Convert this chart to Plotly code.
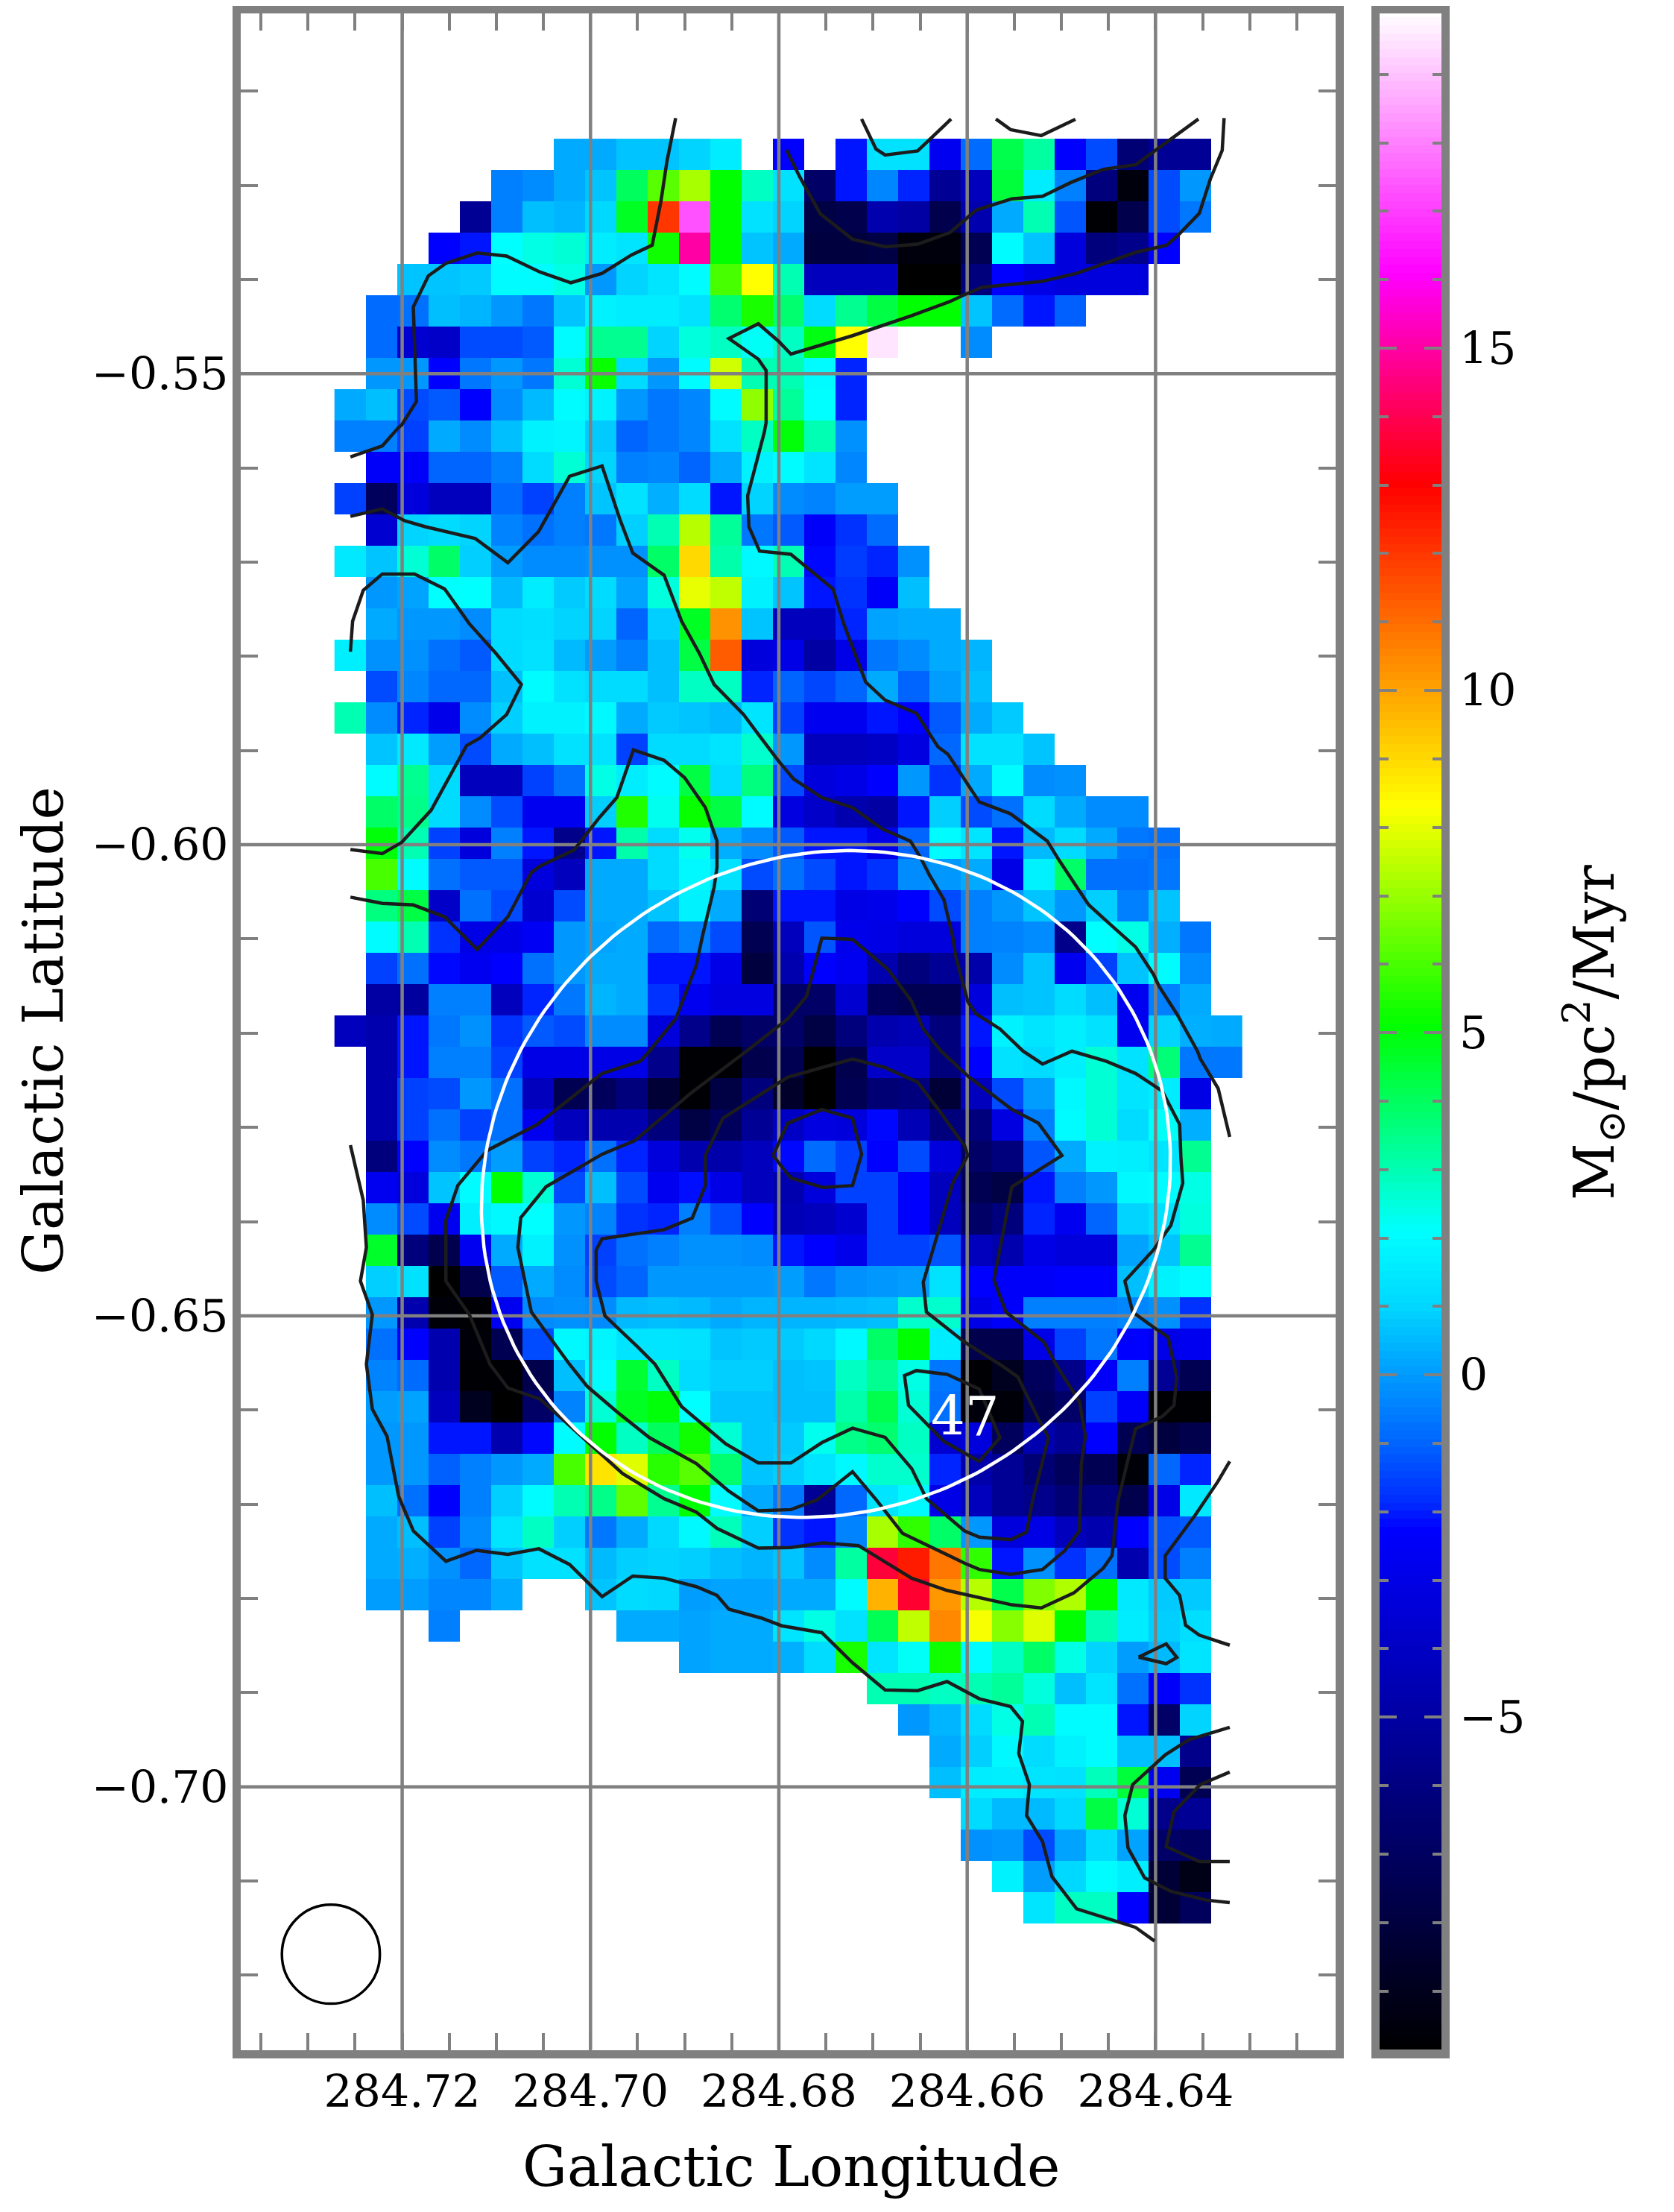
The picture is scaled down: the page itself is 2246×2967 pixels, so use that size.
#!/usr/bin/env python3
"""Outflow mass-loss map with contours, galactic coordinates, rainbow scale."""

import numpy as np
import plotly.graph_objects as go

_ = None

# -- Map readings, one row per 12" pixel, top to bottom, left to right -------
map_rows = [
    [_,_,_,_,_,_,_,0,0,.5,.5,.8,1.5,_,-3.3,_,-3,1.2,1.2,-3.6,-1.3,4.2,3.2,-3.3,-2,-6.5,-5.8,-5.8],
    [_,_,_,_,_,-.8,-.5,0,.5,4,6.2,7.2,5.1,2.8,1.2,-6.8,-3,-.6,-2.8,-5.8,-4.8,4.4,1.5,-.8,-6.3,-9.3,-2,-.3],
    [_,_,_,_,-5.8,-.8,.4,.2,.9,4.7,12,17.3,5.1,1.2,.8,-7.8,-7.5,-5.2,-5.5,-7.5,-5.2,0,3,-1.8,-9.5,-7.5,-2,-1],
    [_,_,_,-3.3,-3,2.1,2.4,2.6,1.5,1.3,5.3,15,5.1,.5,0,-8,-8,-7.8,-9.3,-9.3,-7.3,2,.5,-4,-6.3,-6,-3.3],
    [_,_,.5,.5,.6,2,2,2.4,-.3,.8,1.3,2,6,8.3,3,-4.8,-4.8,-4.8,-9.6,-9.6,-6.3,-3.3,-3.8,-4,-4,-4],
    [_,-1.3,-1.2,.4,.2,-.3,-1,.5,1.7,1.5,1.5,1.2,3.8,5.4,3.8,1,3.4,4.3,5.1,5.1,.5,-1.3,-3,-1.6],
    [_,-1.3,-4.3,-4.5,-2,-2,-1.7,2,3.4,3.4,.8,2.5,2.8,2.2,2.8,4.9,8.3,19.5,_,_,-.5],
    [_,-.3,-.3,-3.3,-1,-.3,-1,2.6,5.2,1,-.3,2,7.7,3,3,2,-2.8],
    [0,.4,-2,-1.7,-3.3,-.5,.3,2,1.7,-.3,-1,-.6,2,6.9,3.3,2.1,-2.8],
    [-.8,-.8,-2.2,0,-.5,.4,1.7,1.8,.6,-1.5,-1,-.6,1.2,2.8,5,3,-.4],
    [_,-3.4,-3.4,-1.5,-1.5,-.8,1,2.6,.8,-.8,-.6,-1.5,0,1.7,2,1.3,-.6],
    [-2.2,-7,-4,-4.8,-4.8,-1.3,-2.2,-.8,.5,1.2,.1,1,-3,.8,-.5,-.7,-.2,-.2],
    [_,-4.3,.8,1,.8,-.7,-1.2,-.8,-1,.7,3,7.4,3.3,-1,-1.7,-3.4,-2.5,-1.3],
    [1.4,.5,2.6,3.9,.7,-.2,-.5,-.5,-.4,-.4,3.9,9,3.1,1.9,3,-3.2,-2.3,-2.8,-.4],
    [_,-.3,-.1,2.1,2.1,.3,1.5,.6,1,-.1,2.5,8,7.5,1.7,.5,-3,-2.5,-3.4,.4],
    [_,0,-.3,-.3,-.5,1,1.1,.8,.8,-1.5,.7,4.7,10.3,.5,-4.8,-4.8,-2.8,-.1,0,0],
    [1.6,-.4,-.4,-1.2,-1.7,1,1.2,.3,-.2,-.8,.4,4.3,11.3,-4,-3.8,-5.5,-3.8,-1,-.5,0,.2],
    [_,-2,-.6,-1.4,-1.4,.4,2,1.2,1,1,.4,2.8,2.8,-2.8,-1.5,-2.1,-1.5,0,-1.5,-.2,.4],
    [3,-.5,-2.8,-3.7,-.5,.7,1.7,1.7,1.9,0,.6,.5,.3,1.3,-2.2,-3.6,-3.6,-3,-3.3,-1.7,0,.6],
    [_,.5,1.4,-.2,-2,0,.4,1.2,1.2,-2.2,1,1,1.3,2.7,-.3,-4.8,-4.8,-4.6,-3.9,-1.4,1.2,1.2,.5],
    [_,2,3.4,1,-4.8,-4.8,-2.2,-1.2,2.4,1.5,2,4.3,1,3.6,-2,-4,-3.8,-3.3,-.3,-2.5,0,2,-.5,-.4],
    [_,3.9,3.5,1,-.5,-2,-3.6,-3.6,.7,5.5,2.3,5.2,4.3,2,-3.9,-4.5,-5.2,-5.5,-3,.7,-2,-1.2,1,0,-.5,-.5],
    [_,5,3,-2.2,-4,-.8,-3,-6,-3,3.1,1,2.3,.1,-.5,-1.7,-3,-3,-3.7,-1.5,2,1.3,-3,.3,1,0,-1,-1.2],
    [_,6,2,-1.2,-1.7,-1.7,-4,-4.8,0,0,1,1.9,1.2,-2,-1.2,-2,-3,-2.5,-.5,-.3,0,-3.8,1.7,3.9,-1.2,-1.2,-1],
    [_,3.6,4.3,-4.5,-1.2,-2,-4.3,-2,0,0,.5,1.7,0,-6.5,-3,-3,-3.8,-3.7,-3.3,-2,-.8,-.3,.5,-.3,.7,-.8,.5],
    [_,2,3,-2.5,-3.8,-3.8,-3.5,-.3,-.1,0,-1.4,-.8,-2,-7.3,-4.8,-1.8,-3.7,-3.8,-4,-4,-.8,-.7,-.5,-6,2.1,2.4,.1,-1],
    [_,-2.2,-1.2,-3.2,-3.6,-3.3,-1.2,-.3,0,0,-3,-3,-3.8,-8,-5.2,-3.3,-3.6,-5.2,-6.3,-5.8,-5.3,-.5,.5,-3.6,-2.2,.5,2,-.5],
    [_,-5.5,-5.6,-.8,-.8,-4.8,-2.8,-1,.2,0,-2.5,-3.6,-3.9,-3.9,-6.8,-6.8,-4.3,-7,-7.3,-7.3,-4,.4,.5,1,.4,-3.6,-.8,0],
    [-4.8,-5.2,-3,-1,-.4,-2.5,-1.7,-2,-.5,-.5,-4,-6,-7.3,-6.8,-6.8,-7.8,-6.3,-5.2,-5,-6.3,-3,1.7,1.3,1.6,1.2,-3.6,.8,.1,0],
    [_,-5.2,-3,-.8,-.8,-2.2,-3.8,-3.8,-3.8,-3.8,-6,-9.5,-9.5,-7.5,-7.3,-9.6,-7.5,-4.5,-4.5,-6.3,-3.3,1.2,1,1.6,2.6,1.2,3.7,-1,-1],
    [_,-5.2,-2.2,-2,-.3,-1.2,-4.8,-7.3,-7,-6.3,-8.2,-9.5,-7.8,-6.3,-8.5,-9.6,-7.3,-6.5,-6.3,-8.2,-4.8,-2,-.2,1.9,2.6,1.3,1.5,-3.8],
    [_,-5.2,-2.2,-1.2,-2.2,-1.2,-3.6,-4.8,-5.2,-5.2,-6.3,-7.8,-7,-5.8,-4.6,-3.9,-4,-3.2,-5,-6.3,-6.3,-3.9,-.8,2,2.6,1,2.2,.1],
    [_,-6.3,-3.3,-.5,-1,-.2,-2.2,-2.8,-1.2,-2.8,-4,-5.2,-5.3,-4.8,-3.2,-1.3,-2.2,-3.3,-2,-4,-6.8,-6.3,-1.8,0,1.7,1.6,1.3,3.4],
    [_,-3.6,-4,.5,2,5.1,2.6,-2,.4,-2,-3.6,-3.1,-3.8,-4.8,-5.2,-4,-2.2,-2.2,-3.3,-4.8,-7.3,-7.8,-3,-.8,-.3,1.9,2,2.4],
    [_,-.5,-2,-3.6,1.6,1.9,2.1,-.3,-.7,-2.5,-2.8,-.8,-2,-3.3,-5,-4.8,-4.3,-2.2,-3.3,-4.8,-6.8,-6.3,-2.8,-3.6,-1.5,.8,1.2,2.5],
    [_,4.6,-6.3,-7.5,-3.6,0,1.7,-.4,-2.2,-1.2,-.8,-.4,-.4,-.5,-3,-3.3,-3.7,-2.2,-2.2,-1.8,-4.8,-5.2,-3.8,-4,-4,-.1,.5,3.4],
    [_,.7,1.2,-9.6,-7.5,-1.7,0,-.5,-2,-1.5,-.3,-.3,-.3,-.3,-.2,-1,-.4,-.3,-.2,1.2,-3.3,-3.4,-3.4,-3.3,-3.3,.4,1.7,2],
    [_,-.3,-5.2,-9.4,-9.5,-3.6,-.5,-.4,-.5,.3,.4,.3,0,.2,.2,.2,.3,.4,2.7,2.7,-3.8,-3.4,-.8,-.8,-.8,-.6,-.4,-2.5],
    [_,-1.2,-3.3,-5.2,-9.4,-7.3,-2,1.9,1.8,1.3,1.3,1.2,.5,.6,.6,.9,1.9,3.9,5.1,1.5,-7.5,-7.5,-3.8,-2.2,-1,-3.3,-3.8,-3.6],
    [_,-.7,-1.3,-5.2,-9.5,-9.5,-7.5,.4,2,4.5,2.8,1,.7,.7,.4,.5,2.8,3.4,2.4,-1,-9.5,-8.8,-7,-6,-3.4,-.8,-5.8,-7.3],
    [_,-.2,-.1,-4.8,-8.8,-9.6,-6.8,-.7,2.6,4.7,5,2.1,.5,.5,.4,.4,3.1,4.2,2.6,-1.2,-9.3,-9.4,-7.3,-6.8,-2.2,-3.4,-9.5,-9.5],
    [_,-.3,-.3,-3,-3,-5.2,-3.2,2,5.1,2.8,4,5.3,2.6,.5,.6,2.3,3.5,3.8,2.8,-4.3,-4,-7,-5.2,-5.8,-3.3,-7.3,-8,-7.5],
    [_,-.3,-.3,-1.6,-.8,-.3,0,6,8.8,7.9,5.6,6.2,3.8,.5,.7,1.3,1.9,2.7,2.7,-2.8,-5.3,-5.8,-6.5,-7,-7.3,-9.4,-1.4,-2.8],
    [_,.4,-1.2,-3.3,-.8,.7,2,3,3.5,6.3,3.4,5.1,2,0,-1,-5.8,-1.4,1.3,1.9,-3.8,-4.8,-5.8,-6,-6.5,-6.3,-7.5,-3.8,1.4],
    [_,0,.4,-2.2,-.5,1.3,2.8,.7,-1,0,.9,1.9,2.9,.7,-2.5,-3,-.7,7.2,5.7,3.9,-.3,-4,-3.8,-4.8,-5.2,-3.3,-1.9,-1.7],
    [_,0,.1,-.4,-1.4,.5,1.2,1.2,.3,.7,.8,.7,.4,.2,.5,-.5,3.2,13.7,12.5,10.8,5.7,-3,-.4,-2.5,-1.2,-5.2,-2,-.8],
    [_,-.2,-.2,-.6,-.6,0,_,_,.5,1,.9,-.2,-.1,-.1,0,0,2,9.7,13.6,10.2,7.4,4.2,6.7,7.3,5.1,1.4,.6,.6],
    [_,_,_,-.8,_,_,_,_,_,0,0,-.1,0,0,1.3,2.4,1.2,4.1,7.5,10.5,8.2,6.8,7.9,5.1,3,1.5,.7,1.1],
    [_,_,_,_,_,_,_,_,_,_,_,-.1,0,0,.1,1,5.4,1.3,2.2,5.3,2,2.8,3.9,2.4,.8,-.2,.3,1.3],
    [_,_,_,_,_,_,_,_,_,_,_,_,_,_,_,_,_,3,3,2.8,3,3.3,2.5,.4,1.3,-1.2,-3.4,-2.5],
    [_,_,_,_,_,_,_,_,_,_,_,_,_,_,_,_,_,_,-.3,.2,1,2.4,3,2,2,-3,-6.8,.8],
    [_,_,_,_,_,_,_,_,_,_,_,_,_,_,_,_,_,_,_,0,.7,1.9,1,1.7,2,.4,.4,-6],
    [_,_,_,_,_,_,_,_,_,_,_,_,_,_,_,_,_,_,_,.4,1.5,1.6,1.3,1.2,2.9,4.4,-3.6,-7.3],
    [_,_,_,_,_,_,_,_,_,_,_,_,_,_,_,_,_,_,_,_,1,.3,.3,.9,4.3,2.6,-6,-5.8],
    [_,_,_,_,_,_,_,_,_,_,_,_,_,_,_,_,_,_,_,_,-.4,-.3,-2,-.1,1,-.1,-6.8,-6.9],
    [_,_,_,_,_,_,_,_,_,_,_,_,_,_,_,_,_,_,_,_,_,1.7,-.2,.9,2,1.6,-8.2,-9],
    [_,_,_,_,_,_,_,_,_,_,_,_,_,_,_,_,_,_,_,_,_,_,1.3,2.8,2.8,-3.3,-8.2,-7],
]

# first-pass colour readings against the bar's printed ticks
reading_pts = [-9.6, -8.0, -7.0, -5.5, -4.0, -3.3, -2.5, -1.5, -0.5, 0.0, 2.1, 20.0]
value_pts = [-9.86, -8.0, -7.1, -5.0, -3.3, -2.25, -1.75, -1.0, -0.3, 0.25, 2.1, 20.0]

# -- Contours, in map pixels (column, row) from the map's upper left corner --
contour_a = [(10.9,-.66),(10.62,.73),(10.43,2),(10.15,3.4),(9.49,3.71),(8.55,4.3),(7.55,4.6),(6.57,4.26),
             (5.5,3.75),(4.56,3.65),(3.56,3.98),(3,4.38),(2.52,5.37),(2.58,7.4),(2.62,8.39),(2.15,9.14),
             (2.05,9.22),(1.53,9.81),(.51,10.16)]
contour_b = [(14.44,.35),(14.86,1.21),(15.52,2.4),(16.55,3.21),(17.59,3.45),(18.63,3.37),(19.66,3),(20.5,2.28),
             (21.64,1.92),(22.62,1.84),(23.52,1.4),(24.56,.98),(25.6,.83),(26.5,.17),(27.6,-.63)]
contour_c = [(16.84,-.63),(17.3,.33),(17.59,.52),(18.63,.39),(19.7,-.63)]
contour_d = [(21.13,-.63),(21.6,-.29),(22.58,-.1),(23.67,-.62)]
contour_e = [(28.42,-.66),(28.36,.37),(27.98,1.29),(27.63,2.38),(27,3.03),(26.59,3.4),(25.59,3.63),(23.71,4.3),
             (22.58,4.56),(20.7,4.74),(20.13,4.98),(19.66,5.2),(18.44,5.65),(16.55,6.29),(14.58,6.88),(14.2,6.48),
             (13.54,5.91),(12.6,6.38),(13.54,7.04),(13.79,7.4),(13.79,9.06),(13.73,9.38),(13.2,11.4),(13.24,12.39),
             (13.58,13.17),(14.58,13.27),(15.93,14.38),(16.27,15.49),(16.97,17.35),(17.59,17.93),(18.59,18.35),
             (19.1,19.14),(19.28,19.42),(19.6,19.66),(20.13,20.49),(20.6,21.18),(21.6,21.56),(22.77,22.43),
             (23.14,23.03),(24.09,24.46),(24.65,24.97),(25.59,25.81),(26.16,26.68),(26.35,27.08),(26.91,27.95),
             (27.57,29.14),(27.66,29.38),(28.23,30.33),(28.6,31.88)]
contour_f = [(.51,16.38),(.58,15.41),(.92,14.42),(1.53,13.9),(2.56,13.9),(3.52,14.38),(4.31,15.49),(5.16,16.44),
             (5.97,17.43),(5.5,18.39),(4.65,19.14),(4.22,19.38),(3.09,21.44),(2.15,22.47),(1.53,22.83),(.51,22.7)]
contour_g = [(.51,12.06),(1.53,11.82),(2.24,12.2),(2.9,12.39),(4.5,12.77),(5.54,13.54),(6.52,12.55),(7.51,10.78),
             (8.55,10.45),(9.12,12.16),(9.53,13.23),(10.53,13.94),(11.09,15.41),(11.66,16.44),(12.13,17.43),
             (13.07,18.39),(13.63,19.14),(14.2,19.89),(14.67,20.45),(15.57,21.04),(16.55,21.36),(17.5,22.04),
             (18.4,22.43),(18.72,22.95),(19,23.5),(19.47,24.3),(19.75,25.49),(19.85,26.12),(20.23,27.55),(20.5,27.95),
             (21.26,28.43),(22,29.14),(22.62,29.55),(23.56,29.14),(24.65,29.46),(25.59,29.85),(26.44,30.41),(27,31.48),
             (27.04,32.55),(27.1,33.35),(26.72,34.7),(26.16,35.49),(25.25,36.48),(25.5,37.47),(26.16,37.95),
             (26.63,38.27),(26.82,39.14),(26.91,39.54),(26.82,40.45),(26.44,40.81),(25.59,41.2),(25.03,43.5),
             (24.84,45.25),(24.56,45.65),(23.62,46.44),(22.58,46.92),(21.64,46.82),(19.57,46.36),(18.44,45.97),
             (16.74,44.93),(15.61,44.84),(14.58,44.99),(13.54,45.01),(12.22,44.38),(11.56,43.86),(10.53,43.43),
             (9.21,42.63),(8.17,41.68),(6.57,40.25),(5.54,39.89),(4.97,39.14),(4.31,37.55),(3.56,36.48),(3.56,34.54),
             (3.94,33.43),(4.88,32.31),(6.48,31.48),(8.55,29.85),(9.77,29.46),(10.06,29.14),(10.9,28.11),(11.56,26.4),
             (11.75,25.49),(12.13,23.9),(12.22,23.27),(12.22,22.43),(11.85,21.36),(11.19,20.41),(10.53,19.85),
             (9.55,19.52),(9.02,21.04),(8.46,21.68),(7.66,22.71),(6.57,23.23),(6.29,23.43),(5.54,24.85),(4.56,25.89),
             (3.52,24.85),(2.52,24.47),(1.53,24.42),(.51,24.22)]
contour_h = [(13.16,29.14),(11.37,30.49),(9.59,32),(8.55,32.43),(6.76,33.47),(5.95,34.46),(5.86,35.41),(6.29,37.47),
             (7.51,39.14),(8.08,39.85),(9.02,40.65),(10.06,41.48),(11.56,42.31),(12.6,43.19),(13.54,43.82),(14.58,43.78),
             (15.42,43.47),(16.55,42.57),(17.31,43.47),(18.15,44.54),(20.13,45.49),(20.6,45.69),(21.6,45.85),(22.62,45.69),
             (23.33,45.09),(23.8,44.46),(23.86,42.31),(23.99,41.44),(23.8,40.33),(23.05,39.14),(22.67,38.43),(21.45,37.47),
             (21.07,36.44),(21.64,33.47),(23.24,32.47),(22.49,31.44),(21.64,31),(20.23,29.93),(19.38,29.14),(18.81,28.43),
             (18.44,27.55),(17.68,26.52),(16.55,25.57),(15.57,25.53),(15.08,27.39),(14.48,28.11),(13.16,29.14)]
contour_i = [(16.55,29.39),(17.59,29.66),(18.63,30.13),(19.38,31.12),(20.13,32.16),(20.23,32.47),(19.75,33.35),
             (18.81,36.52),(18.91,37.47),(20.13,38.43),(21.26,39.14),(21.83,39.54),(22.49,40.89),(22.81,41.48),(22.3,43.5),
             (22.11,44.5),(21.6,44.74),(20.6,44.66),(20.13,44.46),(18.91,43.43),(18.44,42.47),(17.59,41.47),(16.55,41.18),
             (15.57,41.64),(14.58,42.29),(13.54,42.29),(12.5,41.68),(11.09,40.49),(10.24,39.14),(9.68,38.58),(8.64,37.59),
             (8.36,36.48),(8.36,35.49),(8.55,35.13),(10.53,34.84),(11.43,34.47),(11.85,33.43),(11.85,32.47),(12.41,31.28),
             (14.48,29.97),(16.55,29.39)]
contour_j = [(14.01,32.47),(14.48,31.44),(15.57,31),(16.55,31.28),(16.84,32.43),(16.55,33.43),(15.61,33.49),(14.58,33.19),(14.01,32.47)]
contour_k = [(20.6,42.24),(21.26,41.48),(20.6,39.93),(19.57,39.46),(18.59,39.34),(18.21,39.5),(18.34,40.45),(19.47,41.6),(20.6,42.24)]
contour_l = [(.51,32.14),(.92,33.9),(1.02,35.41),(.83,36.48),(1.21,37.55),(1.02,39.14),(1.21,40.57),(1.68,41.44),(2.05,43.35),
             (2.52,44.46),(3.56,45.43),(4.54,45.08),(5.54,45.21),(6.53,45.03),(7.51,45.53),(8.55,46.56),(9.53,45.9),(10.53,45.97),
             (11.56,46.24),(12.22,46.52),(12.6,46.96),(13.63,47.24),(14.29,47.49),(15.57,47.71),(16.55,48.67),(17.59,49.54),
             (18.63,49.56),(19.57,49.27),(20.6,49.82),(21.6,50.07),(21.98,50.54),(21.86,51.57),(22.2,52.56),(22.11,53.55),
             (22.62,54.38),(22.92,55.5),(23.71,56.53),(25.59,57.12),(26.2,57.56)]
contour_m = [(28.6,42.24),(28.23,42.87),(27.48,43.98),(26.54,45.25),(26.54,45.97),(27,46.52),(27.19,47.47),(27.63,47.79),(28.6,48.11)]
contour_n = [(28.6,50.73),(27.29,51.13),(26.54,51.61),(25.5,52.56),(25.25,53.55),(25.35,54.58),(25.88,55.54),(26.72,55.97),(27.85,56.25),(28.6,56.33)]
contour_o = [(28.6,52.16),(27.66,52.56),(26.82,53.43),(26.57,54.54),(27.63,55.02),(28.6,55.02)]
contour_p = [(25.69,48.49),(26.57,48.07),(26.91,48.5),(26.57,48.7),(25.69,48.49)]
contours = [contour_a, contour_b, contour_c, contour_d, contour_e, contour_f, contour_g, contour_h,
            contour_i, contour_j, contour_k, contour_l, contour_m, contour_n, contour_o, contour_p]

lon_ticks = [284.72, 284.70, 284.68, 284.66, 284.64]
lat_ticks = [-0.55, -0.60, -0.65, -0.70]
bar_ticks = [-5, 0, 5, 10, 15]

# -- Map geometry ------------------------------------------------------------
LON_EDGE = 284.72719
LAT_EDGE = -0.52505
CDELT = 0.003324
LON_RANGE = [284.73718, 284.62088]
LAT_RANGE = [-0.72792, -0.51175]
ZMIN, ZMAX = -9.86, 19.89

# region 47: centre and conjugate radii in map pixels
REGION = dict(col=15.70, row=33.38, du_col=0.755, du_row=-10.65, dv_col=10.98)

GREY = "#808080"
FONT = "DejaVu Serif"
# the page body keeps its 8 px margin, so the figure is that much smaller
PAGE_MARGIN = 8
W, H = 2246 - 2 * PAGE_MARGIN, 2967 - 2 * PAGE_MARGIN

stops = [(-9.86, "#000000"), (-2.25, "#0000ff"), (-1.9, "#0028ff"), (-1.0, "#0064ff"), (0.0, "#009bff"),
         (1.0, "#00d7ff"), (2.1, "#00ffff"), (5.1, "#00ff00"), (8.3, "#ffff00"), (13.0, "#ff0000"),
         (16.1, "#ff00ff"), (19.89, "#ffffff")]
colorscale = [[(v - ZMIN) / (ZMAX - ZMIN), c] for v, c in stops]


def to_lon(col):
    return LON_EDGE - CDELT * np.asarray(col)


def to_lat(row):
    return LAT_EDGE - CDELT * np.asarray(row)


def paper_x(px):
    return (px - PAGE_MARGIN) / W


def paper_y(px):
    return 1 - (px - PAGE_MARGIN) / H


def main():
    ncol = 29
    z = []
    for row in map_rows:
        cells = row + [None] * (ncol - len(row))
        z.append([None if v is None else float(np.interp(v, reading_pts, value_pts)) for v in cells])

    fig = go.Figure()
    fig.add_trace(go.Heatmap(
        x=to_lon(np.arange(ncol) + 0.5), y=to_lat(np.arange(len(z)) + 0.5), z=z,
        coloraxis="coloraxis", hoverongaps=False,
    ))

    # grid sits over the map, so it is drawn as lines rather than axis grid
    for lon in lon_ticks:
        fig.add_trace(go.Scatter(x=[lon, lon], y=LAT_RANGE, mode="lines",
                                 line=dict(color=GREY, width=4.5), showlegend=False))
    for lat in lat_ticks:
        fig.add_trace(go.Scatter(x=LON_RANGE, y=[lat, lat], mode="lines",
                                 line=dict(color=GREY, width=4.5), showlegend=False))

    for contour in contours:
        cols, rows = zip(*contour)
        fig.add_trace(go.Scatter(x=to_lon(cols), y=to_lat(rows), mode="lines",
                                 line=dict(color="#1c1c1c", width=4.5), showlegend=False))

    t = np.linspace(0, 2 * np.pi, 240)
    fig.add_trace(go.Scatter(
        x=to_lon(REGION["col"] + REGION["du_col"] * np.cos(t) + REGION["dv_col"] * np.sin(t)),
        y=to_lat(REGION["row"] + REGION["du_row"] * np.cos(t)),
        mode="lines", line=dict(color="white", width=4.5), showlegend=False,
    ))

    # colour bar as its own little axes, it needs ticks on both sides
    levels = np.linspace(ZMIN, ZMAX, 256)
    fig.add_trace(go.Heatmap(x=[0], y=levels, z=levels[:, None], xaxis="x2", yaxis="y2",
                             coloraxis="coloraxis"))

    tick_font = dict(family=FONT, size=60, color="black")
    fig.update_layout(
        width=W, height=H, autosize=False,
        margin=dict(l=0, r=0, t=0, b=0),
        paper_bgcolor="white", plot_bgcolor="white",
        font=tick_font,
        showlegend=False,
        coloraxis=dict(colorscale=colorscale, cmin=ZMIN, cmax=ZMAX, showscale=False),
        xaxis=dict(
            domain=[paper_x(322.5), paper_x(1792)], range=LON_RANGE, anchor="y",
            tickmode="array", tickvals=lon_ticks, tickformat=".2f", tickfont=tick_font,
            ticks="inside", ticklen=23, tickwidth=4, tickcolor=GREY,
            minor=dict(dtick=0.005, tick0=284.72, ticks="inside", ticklen=23, tickwidth=4, tickcolor=GREY),
            showline=True, linewidth=11, linecolor=GREY, mirror="ticks",
            showgrid=False, zeroline=False, ticklabelstandoff=-7,
        ),
        yaxis=dict(
            domain=[paper_y(2749.5), paper_y(18)], range=LAT_RANGE, anchor="x",
            tickmode="array", tickvals=lat_ticks, tickformat=".2f", tickfont=tick_font,
            ticks="inside", ticklen=23, tickwidth=4, tickcolor=GREY,
            minor=dict(dtick=0.01, tick0=-0.55, ticks="inside", ticklen=23, tickwidth=4, tickcolor=GREY),
            showline=True, linewidth=11, linecolor=GREY, mirror="ticks",
            showgrid=False, zeroline=False, ticklabelstandoff=-7,
        ),
        xaxis2=dict(
            domain=[paper_x(1851), paper_x(1934)], range=[-0.5, 0.5], anchor="y2",
            showticklabels=False, ticks="", showgrid=False, zeroline=False,
            showline=True, linewidth=11, linecolor=GREY, mirror=True,
        ),
        yaxis2=dict(
            domain=[paper_y(2749.5), paper_y(18)], range=[ZMIN, ZMAX], anchor="x2", side="right",
            tickmode="array", tickvals=bar_ticks, tickfont=tick_font,
            ticks="inside", ticklen=23, tickwidth=4, tickcolor=GREY,
            minor=dict(dtick=1, tick0=0, ticks="inside", ticklen=12, tickwidth=4, tickcolor=GREY),
            showline=True, linewidth=11, linecolor=GREY, mirror="ticks",
            showgrid=False, zeroline=False, ticklabelstandoff=1,
        ),
    )

    fig.add_shape(type="circle", xref="x", yref="y",
                  x0=284.73277, x1=284.72237, y0=-0.72302, y1=-0.71251,
                  line=dict(color="black", width=3.5))

    fig.add_annotation(x=284.66021, y=-0.66069, xref="x", yref="y", text="47", showarrow=False,
                       font=dict(family=FONT, size=72, color="white"))
    fig.add_annotation(x=paper_x(1061), y=paper_y(2906), xref="paper", yref="paper", text="Galactic Longitude",
                       xanchor="center", yanchor="middle", showarrow=False, font=dict(family=FONT, size=75))
    fig.add_annotation(x=paper_x(58), y=paper_y(1383), xref="paper", yref="paper", text="Galactic Latitude",
                       xanchor="center", yanchor="middle", textangle=-90, showarrow=False,
                       font=dict(family=FONT, size=75))
    fig.add_annotation(x=paper_x(2138), y=paper_y(1385), xref="paper", yref="paper",
                       text="M<sub>⊙</sub>/pc<sup>2</sup>/Myr",
                       xanchor="center", yanchor="middle", textangle=-90, showarrow=False,
                       font=dict(family=FONT, size=75))

    fig.write_html("out.html")


if __name__ == "__main__":
    main()
